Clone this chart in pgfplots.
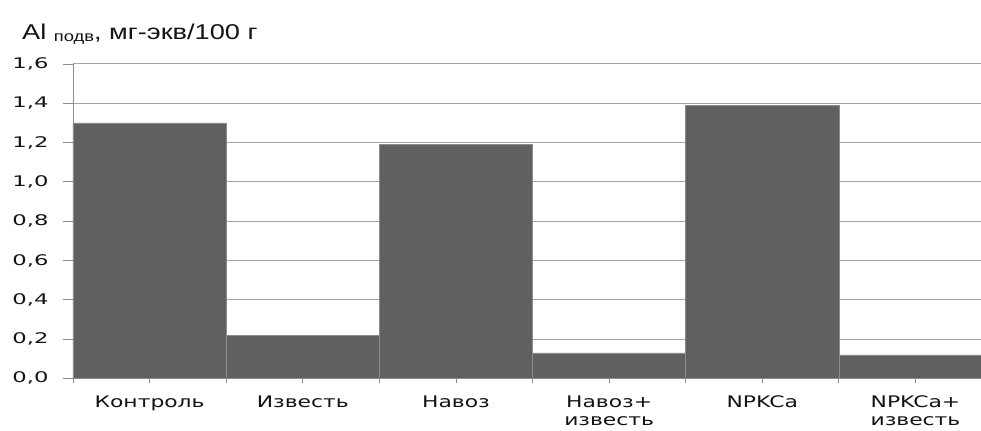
\documentclass[border=0pt]{standalone}
\usepackage{pgfplots}
\pgfplotsset{compat=1.18}
\usepackage{fontspec}
\usepackage{graphicx}
\setmainfont{DejaVu Sans}
\newfontfamily\titlefont{Liberation Sans}

\definecolor{barfill}{HTML}{606060}
\definecolor{baredge}{HTML}{8C8C8C}
\definecolor{gridc}{HTML}{A6A6A6}
\definecolor{axisc}{HTML}{8C8C8C}
\definecolor{labc}{HTML}{141414}

% category label: wide sans, top-aligned so that the first line sits on the base anchor
\newcommand\xl[1]{\scalebox{1.37}[1]{\fontsize{16}{17.5}\selectfont\begin{tabular}[t]{@{}c@{}}#1\end{tabular}}}

\begin{document}
\begin{tikzpicture}
\path[use as bounding box] (-73bp,-52.6bp) rectangle (908bp,378.4bp);
\begin{axis}[
  at={(0,0)}, anchor=south west, scale only axis,
  width=908bp, height=314.4bp,
  xmin=-0.5, xmax=5.428, ymin=0, ymax=1.6,
  axis x line*=bottom, axis y line*=left,
  axis line style={draw=axisc, line width=0.8bp, -},
  tick align=outside,
  ymajorgrids, major grid style={draw=gridc, line width=1bp},
  ytick={0,0.2,0.4,0.6,0.8,1.0,1.2,1.4,1.6},
  ytick style={draw=axisc, line width=0.8bp, /pgfplots/major tick length=10bp},
  yticklabel style={anchor=east, inner sep=0pt, xshift=-20bp, text=labc},
  yticklabel={\scalebox{1.55}[1]{\fontsize{14.7}{15}\selectfont\pgfmathprintnumber{\tick}}},
  /pgf/number format/.cd, use comma, fixed, fixed zerofill, precision=1, assume math mode=true,
  /pgfplots/.cd,
  xtick={-0.5,0.5,1.5,2.5,3.5,4.5},
  xticklabels={},
  xtick style={draw=axisc, line width=0.8bp, /pgfplots/major tick length=5bp},
  extra x ticks={0,1,2,3,4,5},
  extra x tick labels={{\xl{Контроль}},{\xl{Известь}},{\xl{Навоз}},{\xl{Навоз+\\известь}},{\xl{NPKCa}},{\xl{NPKCa+\\известь}}},
  extra x tick style={xticklabel style={anchor=base, inner sep=0pt, yshift=-29.3bp, text=labc}, major tick length=0pt},
]
\addplot[ybar, bar width=1, fill=barfill, draw=baredge, line width=0.6bp]
  coordinates {(0,1.30) (1,0.22) (2,1.19) (3,0.13) (4,1.39) (5,0.12)};
\end{axis}
\node[anchor=base west, inner sep=0pt, text=labc] at (-51bp,338.4bp)
  {\titlefont\scalebox{1.27}[1]{\fontsize{21.5}{21.5}\selectfont Al \raisebox{-1.5bp}{\fontsize{14.5}{14.5}\selectfont подв}, мг-экв/100 г}};
\end{tikzpicture}
\end{document}
